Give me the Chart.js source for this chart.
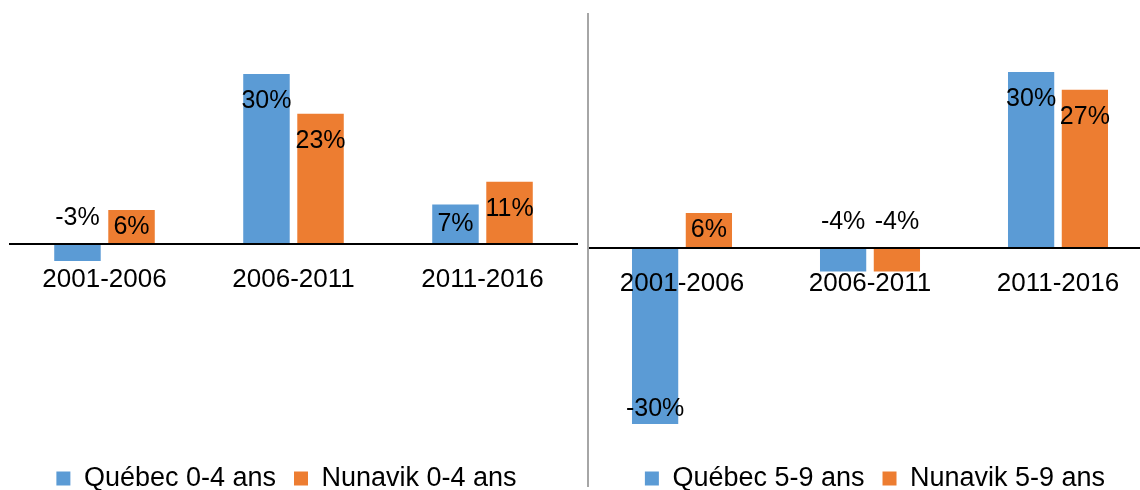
<!DOCTYPE html>
<html>
<head>
<meta charset="utf-8">
<script src="https://cdn.jsdelivr.net/npm/chart.js@4"></script>
<style>
  html, body { margin: 0; padding: 0; background: #fff; overflow: hidden; }
  #wrap { position: relative; width: 1140px; height: 490px; overflow: hidden; }
  #left { position: absolute; left: 0; top: 0; }
  #right { position: absolute; left: 588px; top: 0; }
  #sep { position: absolute; left: 587px; top: 13px; width: 0; height: 474px; border-left: 2px solid #a6a6a6; }
</style>
</head>
<body>
<div id="wrap">
  <canvas id="left" width="588" height="490"></canvas>
  <canvas id="right" width="576" height="490"></canvas>
  <div id="sep"></div>
</div>
<script>
const periods = ["2001-2006", "2006-2011", "2011-2016"];
const quebec04 = [-3, 30, 7];
const nunavik04 = [6, 23, 11];
const quebec59 = [-30, -4, 30];
const nunavik59 = [6, -4, 27];

const BLUE = "#5b9bd5";
const ORANGE = "#ed7d31";
const FONT = '"Liberation Sans", Arial, sans-serif';

// labels on the bars, roughly where Excel puts them
const barLabels = {
  id: "barLabels",
  afterDatasetsDraw(chart) {
    const ctx = chart.ctx;
    ctx.save();
    ctx.font = "25px " + FONT;
    ctx.fillStyle = "#000";
    ctx.textAlign = "center";
    ctx.textBaseline = "middle";
    chart.data.datasets.forEach((ds, i) => {
      chart.getDatasetMeta(i).data.forEach((bar, j) => {
        const v = ds.data[j];
        const top = Math.min(bar.y, bar.base);
        const bottom = Math.max(bar.y, bar.base);
        let y;
        if (v >= 0) y = Math.min(bar.y + 27, (top + bottom) / 2);
        else if (bottom - top > 60) y = bar.y - 15;
        else y = bar.base - 26;
        ctx.fillText(Math.round(v) + "%", bar.x, y);
      });
    });
    ctx.restore();
  }
};

// move the legend sideways
const shiftLegend = {
  id: "shiftLegend",
  afterLayout(chart, args, opts) {
    const l = chart.legend;
    if (l && opts.dx) {
      l.left += opts.dx;
      l.right += opts.dx;
    }
  }
};

function makeChart(id, labels, a, b, nameA, nameB, yMin, yMax, pad, dx) {
  return new Chart(document.getElementById(id), {
    type: "bar",
    data: {
      labels: labels,
      datasets: [
        { label: nameA, data: a, backgroundColor: BLUE, borderWidth: 0 },
        { label: nameB, data: b, backgroundColor: ORANGE, borderWidth: 0 }
      ]
    },
    options: {
      responsive: false,
      animation: false,
      categoryPercentage: 0.572,
      barPercentage: 0.86,
      layout: { padding: pad },
      scales: {
        x: {
          position: { y: 0 },
          grid: { display: false, drawTicks: false },
          border: { display: true, color: "#000", width: 2, z: 1 },
          ticks: { color: "#000", font: { size: 26, family: FONT }, padding: 20, maxRotation: 0, z: 1 }
        },
        y: {
          display: false,
          min: yMin,
          max: yMax
        }
      },
      plugins: {
        legend: {
          position: "bottom",
          labels: {
            color: "#000",
            font: { size: 27, family: FONT },
            boxWidth: 14,
            boxHeight: 14,
            padding: 18
          }
        },
        tooltip: { enabled: false },
        shiftLegend: { dx: dx }
      }
    },
    plugins: [barLabels, shiftLegend]
  });
}

makeChart("left", periods, quebec04, nunavik04, "Québec 0-4 ans", "Nunavik 0-4 ans",
  -35.8, 40.6, { left: 10, right: 11, top: 14, bottom: -12 }, -7);
makeChart("right", periods, quebec59, nunavik59, "Québec 5-9 ans", "Nunavik 5-9 ans",
  -33.9, 39.9, { left: 0, right: 12, top: 14, bottom: -12 }, 5);
</script>
</body>
</html>
